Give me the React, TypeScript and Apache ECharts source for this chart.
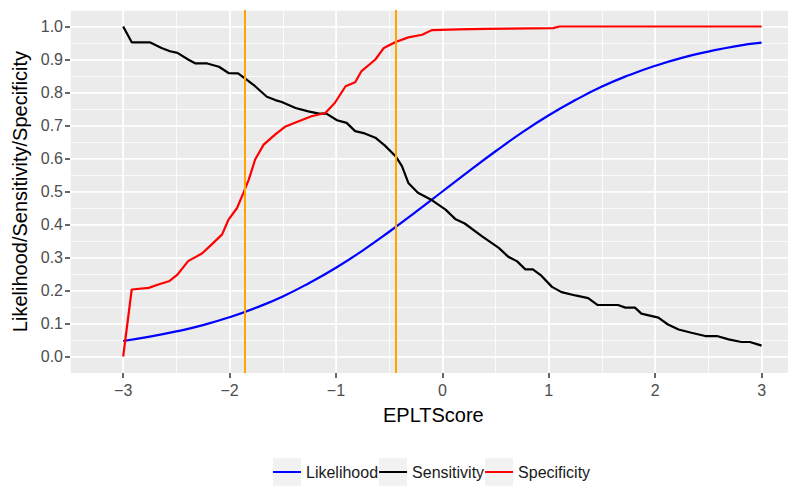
import React, { useEffect, useRef } from 'react';
import * as echarts from 'echarts';

const xTicks = [-3, -2, -1, 0, 1, 2, 3];
const yTicks = [0, 0.1, 0.2, 0.3, 0.4, 0.5, 0.6, 0.7, 0.8, 0.9, 1.0];
const seriesNames = ['Likelihood', 'Sensitivity', 'Specificity'];
const seriesColors = ['#0000FF', '#000000', '#FF0000'];
const cutoffs = [-1.86, -0.44];

const likelihoodX = [-3, -2.75, -2.5, -2.25, -2, -1.75, -1.5, -1.25, -1, -0.75, -0.5, -0.25, 0, 0.25, 0.5, 0.75, 1, 1.25, 1.5, 1.75, 2, 2.25, 2.5, 2.75, 3];
const likelihoodY = [0.047, 0.06, 0.076, 0.095, 0.119, 0.148, 0.182, 0.223, 0.269, 0.321, 0.378, 0.438, 0.5, 0.562, 0.622, 0.679, 0.731, 0.777, 0.818, 0.852, 0.881, 0.905, 0.924, 0.94, 0.951];

const sensitivityX = [-3.0, -2.92, -2.75, -2.64, -2.56, -2.49, -2.39, -2.32, -2.21, -2.1, -2.01, -1.92, -1.85, -1.76, -1.65, -1.57, -1.51, -1.38, -1.26, -1.16, -1.09, -0.99, -0.9, -0.82, -0.73, -0.63, -0.54, -0.44, -0.38, -0.32, -0.23, -0.11, 0.03, 0.12, 0.21, 0.37, 0.53, 0.62, 0.7, 0.78, 0.85, 0.93, 1.03, 1.12, 1.25, 1.37, 1.46, 1.65, 1.72, 1.81, 1.87, 2.03, 2.12, 2.22, 2.34, 2.47, 2.58, 2.69, 2.81, 2.89, 2.97, 3.0];
const sensitivityY = [1.0, 0.952, 0.952, 0.935, 0.925, 0.92, 0.9, 0.888, 0.888, 0.878, 0.859, 0.858, 0.841, 0.819, 0.787, 0.777, 0.771, 0.753, 0.743, 0.736, 0.736, 0.716, 0.708, 0.683, 0.676, 0.663, 0.639, 0.607, 0.577, 0.526, 0.496, 0.476, 0.445, 0.417, 0.403, 0.365, 0.329, 0.302, 0.289, 0.264, 0.264, 0.245, 0.211, 0.195, 0.185, 0.177, 0.156, 0.156, 0.148, 0.148, 0.13, 0.118, 0.097, 0.082, 0.072, 0.062, 0.062, 0.052, 0.044, 0.044, 0.036, 0.033];

const specificityX = [-3.0, -2.92, -2.76, -2.67, -2.57, -2.49, -2.39, -2.26, -2.17, -2.07, -2.01, -1.93, -1.87, -1.82, -1.76, -1.68, -1.57, -1.48, -1.35, -1.23, -1.1, -1.01, -0.91, -0.82, -0.76, -0.63, -0.55, -0.44, -0.32, -0.19, -0.1, 0.15, 0.4, 1.04, 1.1, 3.0];
const specificityY = [0.0, 0.203, 0.208, 0.218, 0.228, 0.248, 0.289, 0.312, 0.339, 0.37, 0.415, 0.45, 0.496, 0.536, 0.597, 0.642, 0.673, 0.696, 0.713, 0.728, 0.738, 0.769, 0.819, 0.831, 0.865, 0.9, 0.935, 0.953, 0.967, 0.975, 0.989, 0.991, 0.993, 0.995, 1.0, 1.0];

const FONT = '"Liberation Sans", Arial, Helvetica, sans-serif';

const pairs = (xs: number[], ys: number[]) => xs.map((x, i) => [x, ys[i]]);

export default function App() {
  const ref = useRef<HTMLDivElement>(null);

  useEffect(() => {
    const chart = echarts.init(ref.current as HTMLDivElement, null, { renderer: 'svg' });
    const gridLeft = 70;
    const gridTop = 10;
    const gridWidth = 726.7;
    const gridHeight = 363;

    const lineSeries = (idx: number, data: number[][], smooth: boolean, extra: any = {}) => ({
      name: seriesNames[idx],
      type: 'line',
      xAxisIndex: 0,
      yAxisIndex: 0,
      data,
      smooth,
      symbol: 'none',
      showSymbol: false,
      color: seriesColors[idx],
      itemStyle: { color: seriesColors[idx] },
      lineStyle: { color: seriesColors[idx], width: 2.2 },
      emphasis: { disabled: true },
      z: 3,
      ...extra,
    });

    const option: any = {
      animation: false,
      backgroundColor: '#FFFFFF',
      textStyle: { fontFamily: FONT },
      grid: {
        left: gridLeft,
        top: gridTop,
        width: gridWidth,
        height: gridHeight,
        show: true,
        backgroundColor: '#EBEBEB',
        borderWidth: 0,
        containLabel: false,
        outerBoundsMode: 'none',
      },
      xAxis: [
        {
          type: 'value',
          min: -3.5,
          max: 3.33,
          position: 'bottom',
          name: 'EPLTScore',
          nameLocation: 'middle',
          nameGap: 32,
          nameTextStyle: { fontSize: 20, color: '#000000', fontFamily: FONT },
          axisLine: { show: false, onZero: false },
          axisTick: { show: true, length: 5, customValues: xTicks, lineStyle: { color: '#333333', width: 1.5 } },
          axisLabel: {
            show: true,
            customValues: xTicks,
            margin: 9,
            fontSize: 16,
            color: '#4D4D4D',
            fontFamily: FONT,
            formatter: (v: number) => (v < 0 ? '\u2212' + Math.abs(v) : String(v)),
          },
          splitLine: { show: true, lineStyle: { color: '#FFFFFF', width: 1.6 } },
        },
        {
          type: 'value',
          min: -3.5,
          max: 3.33,
          interval: 0.5,
          position: 'top',
          axisLine: { show: false, onZero: false },
          axisTick: { show: false },
          axisLabel: { show: false },
          splitLine: { show: true, lineStyle: { color: '#FFFFFF', width: 0.8 } },
        },
      ],
      yAxis: [
        {
          type: 'value',
          min: -0.05,
          max: 1.05,
          position: 'left',
          name: 'Likelihood/Sensitivity/Specificity',
          nameLocation: 'middle',
          nameGap: 39,
          nameTextStyle: { fontSize: 20, color: '#000000', fontFamily: FONT },
          axisLine: { show: false, onZero: false },
          axisTick: { show: true, length: 5, customValues: yTicks, lineStyle: { color: '#333333', width: 1.5 } },
          axisLabel: {
            show: true,
            customValues: yTicks,
            margin: 7,
            fontSize: 16,
            color: '#4D4D4D',
            fontFamily: FONT,
            formatter: (v: number) => v.toFixed(1),
          },
          splitLine: { show: true, lineStyle: { color: '#FFFFFF', width: 1.6 } },
        },
        {
          type: 'value',
          min: -0.05,
          max: 1.05,
          interval: 0.05,
          position: 'right',
          axisLine: { show: false, onZero: false },
          axisTick: { show: false },
          axisLabel: { show: false },
          splitLine: { show: true, lineStyle: { color: '#FFFFFF', width: 0.8 } },
        },
      ],
      legend: {
        data: seriesNames,
        left: 273,
        top: 458,
        padding: 0,
        itemWidth: 28,
        itemHeight: 28,
        itemGap: 1,
        selectedMode: false,
        icon: 'path://M0,0L0.01,0L0.01,0.01L0,0.01ZM27.99,27.99L28,27.99L28,28L27.99,28ZM0,13.1L28,13.1L28,14.9L0,14.9Z',
        textStyle: { fontSize: 16, color: '#1A1A1A', fontFamily: FONT },
        z: 5,
      },
      graphic: seriesNames.map((n, i) => ({
        type: 'rect',
        z: 1,
        silent: true,
        shape: { x: 273 + i * 106, y: 458, width: 28, height: 28 },
        style: { fill: '#F2F2F2' },
      })),
      series: [
        lineSeries(0, pairs(likelihoodX, likelihoodY), true),
        lineSeries(1, pairs(sensitivityX, sensitivityY), false),
        lineSeries(2, pairs(specificityX, specificityY), false, {
          markLine: {
            silent: true,
            symbol: ['none', 'none'],
            label: { show: false },
            emphasis: { disabled: true },
            lineStyle: { color: '#FFA500', width: 2, type: 'solid' },
            data: cutoffs.map((c) => ({ xAxis: c })),
          },
        }),
      ],
    };

    chart.setOption(option);
    return () => chart.dispose();
  }, []);

  return <div ref={ref} style={{ position: 'absolute', left: 0, top: 0, width: 788, height: 497 }} />;
}
